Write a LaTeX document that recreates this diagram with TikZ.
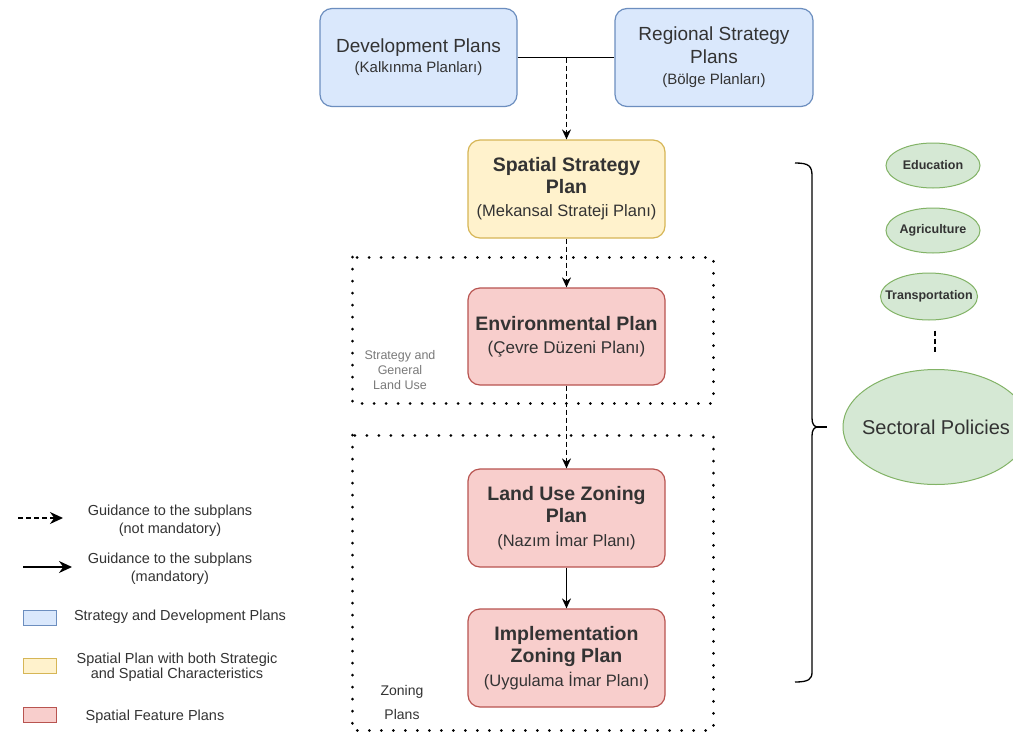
\documentclass[tikz,border=0pt]{standalone}
\usepackage{fontspec}
\setmainfont{Liberation Sans}
\usetikzlibrary{arrows.meta,shapes.geometric}
\definecolor{bluef}{HTML}{DAE8FC}
\definecolor{blues}{HTML}{6C8EBF}
\definecolor{yellowf}{HTML}{FFF2CC}
\definecolor{yellows}{HTML}{D6B656}
\definecolor{redf}{HTML}{F8CECC}
\definecolor{reds}{HTML}{B85450}
\definecolor{greenf}{HTML}{D5E8D4}
\definecolor{greens}{HTML}{82B366}
\definecolor{txt}{HTML}{333333}
\definecolor{lighttxt}{HTML}{7A7A7A}
\begin{document}
\begin{tikzpicture}[x=1pt,y=-1pt,
  plan/.style={draw, rounded corners=12pt, line width=1.2pt, minimum width=197pt,
    minimum height=98pt, align=center, text=txt, inner sep=2pt},
  blueplan/.style={plan, fill=bluef, draw=blues,
    font=\fontsize{19}{24}\selectfont},
  yellowplan/.style={plan, fill=yellowf, draw=yellows,
    font=\fontsize{19.5}{22}\selectfont\bfseries},
  redplan/.style={plan, fill=redf, draw=reds,
    font=\fontsize{19.5}{22}\selectfont\bfseries},
  sector/.style={ellipse, draw=greens, fill=greenf, line width=1pt, inner sep=0pt},
  sectlabel/.style={text=txt, inner sep=0pt},
  dasharrow/.style={line width=1.3pt, dash pattern=on 5pt off 3pt,
    -{Stealth[length=10pt,width=9pt]}},
  solidarrow/.style={line width=1.3pt, -{Stealth[length=10pt,width=9pt]}},
  legdash/.style={line width=1.3pt, dash pattern=on 5pt off 3pt,
    -{Stealth[length=13pt,width=12pt]}},
  legsolid/.style={line width=1.3pt, -{Stealth[length=13pt,width=12pt]}},
  dotbox/.style={line width=3pt, line cap=round, dash pattern=on 0.01pt off 12pt},
  legtext/.style={align=center, text=txt, font=\fontsize{14.5}{18}\selectfont},
  legsq/.style={draw, line width=1pt, minimum width=33pt, minimum height=15pt, inner sep=0pt},
]
\useasboundingbox (0,0) rectangle (1013,734);
\fill[white] (0,0) rectangle (1013,734);

% dotted group boxes
\draw[dotbox] (352,257) rectangle (713,403);
\draw[dotbox] (352,435) rectangle (713,730);

% plan boxes
\node[blueplan] (dev) at (418.5,57.5) {Development Plans\\[-4pt]
  \fontsize{15}{17}\selectfont(Kalkınma Planları)};
\node[blueplan, minimum width=198pt] (reg) at (714,57.5) {Regional Strategy\\[-1pt]Plans\\[-3pt]
  \fontsize{15}{17}\selectfont(Bölge Planları)};
\node[yellowplan] (ssp) at (566.5,189) {Spatial Strategy\\Plan\\[1pt]
  \mdseries\fontsize{16.5}{18}\selectfont(Mekansal Strateji Planı)};
\node[redplan, minimum height=97pt] (env) at (566.5,336.5) {Environmental Plan\\[1pt]
  \mdseries\fontsize{17}{19}\selectfont(Çevre Düzeni Planı)};
\node[redplan] (luz) at (566.5,518) {Land Use Zoning\\Plan\\[2pt]
  \mdseries\fontsize{16.5}{18}\selectfont(Nazım İmar Planı)};
\node[redplan] (imp) at (566.5,658) {Implementation\\Zoning Plan\\[2pt]
  \mdseries\fontsize{16.5}{18}\selectfont(Uygulama İmar Planı)};

% group labels
\node[align=center, text=lighttxt, font=\fontsize{12.5}{15}\selectfont] (grp1) at (400,370)
  {Strategy and\\General\\Land Use};
\node[align=center, text=txt, font=\fontsize{14}{24}\selectfont] (grp2) at (402,702)
  {Zoning\\Plans};

% connectors
\draw[line width=1.3pt] (dev.east) -- (reg.west);
\coordinate (join) at (ssp.north |- dev.east);
\draw[dasharrow] (join) -- (ssp.north);
\draw[dasharrow] (ssp.south) -- (env.north);
\draw[dasharrow] (env.south) -- (luz.north);
\draw[solidarrow] (luz.south) -- (imp.north);

% brace
\draw[line width=1.3pt] (795,163) .. controls (809,163) and (812,166) .. (812,176)
  -- (812,418) .. controls (812,424) and (814,427) .. (818,427)
  .. controls (814,427) and (812,430) .. (812,436)
  -- (812,672) .. controls (812,679) and (809,682) .. (795,682);
\draw[line width=1.3pt] (817,427) -- (827,427);

% sectoral ellipses
\node[sector, minimum width=94pt, minimum height=45pt,
  label={[sectlabel, font=\fontsize{12.5}{14}\selectfont\bfseries]center:Education}]
  (edu) at (933,165.5) {};
\node[sector, minimum width=94pt, minimum height=45pt,
  label={[sectlabel, font=\fontsize{12.5}{14}\selectfont\bfseries]center:Agriculture}]
  (agr) at (933,230.5) {};
\node[sector, minimum width=97pt, minimum height=47pt,
  label={[sectlabel, font=\fontsize{12.5}{14}\selectfont\bfseries]center:Transportation}]
  (tra) at (929,296.5) {};
\node[sector, minimum width=186pt, minimum height=115pt,
  label={[sectlabel, font=\fontsize{20}{24}\selectfont]center:Sectoral Policies}]
  (sec) at (936,427) {};
\draw[line width=1.3pt, dash pattern=on 5pt off 3pt, shorten <=10pt, shorten >=17pt]
  ([xshift=6pt]tra.south) -- ([xshift=6pt]tra.south |- sec.north);

% legend
\coordinate (la1) at (18,518);
\coordinate (lb1) at (63,518);
\draw[legdash] (la1) -- (lb1);
\node[legtext] (lt1) at (170,521) {Guidance to the subplans\\(not mandatory)};
\coordinate (la2) at (23,567);
\coordinate (lb2) at (72,567);
\draw[legsolid] (la2) -- (lb2);
\node[legtext] (lt2) at (170,569) {Guidance to the subplans\\(mandatory)};
\node[legsq, fill=bluef, draw=blues] (ls1) at (39.5,617.5) {};
\node[legtext] (lt3) at (180,617) {Strategy and Development Plans};
\node[legsq, fill=yellowf, draw=yellows] (ls2) at (39.5,665.5) {};
\node[legtext, font=\fontsize{14.5}{15}\selectfont] (lt4) at (177,667.5)
  {Spatial Plan with both Strategic\\and Spatial Characteristics};
\node[legsq, fill=redf, draw=reds] (ls3) at (39.5,715) {};
\node[legtext] (lt5) at (155,717) {Spatial Feature Plans};
\end{tikzpicture}
\end{document}
